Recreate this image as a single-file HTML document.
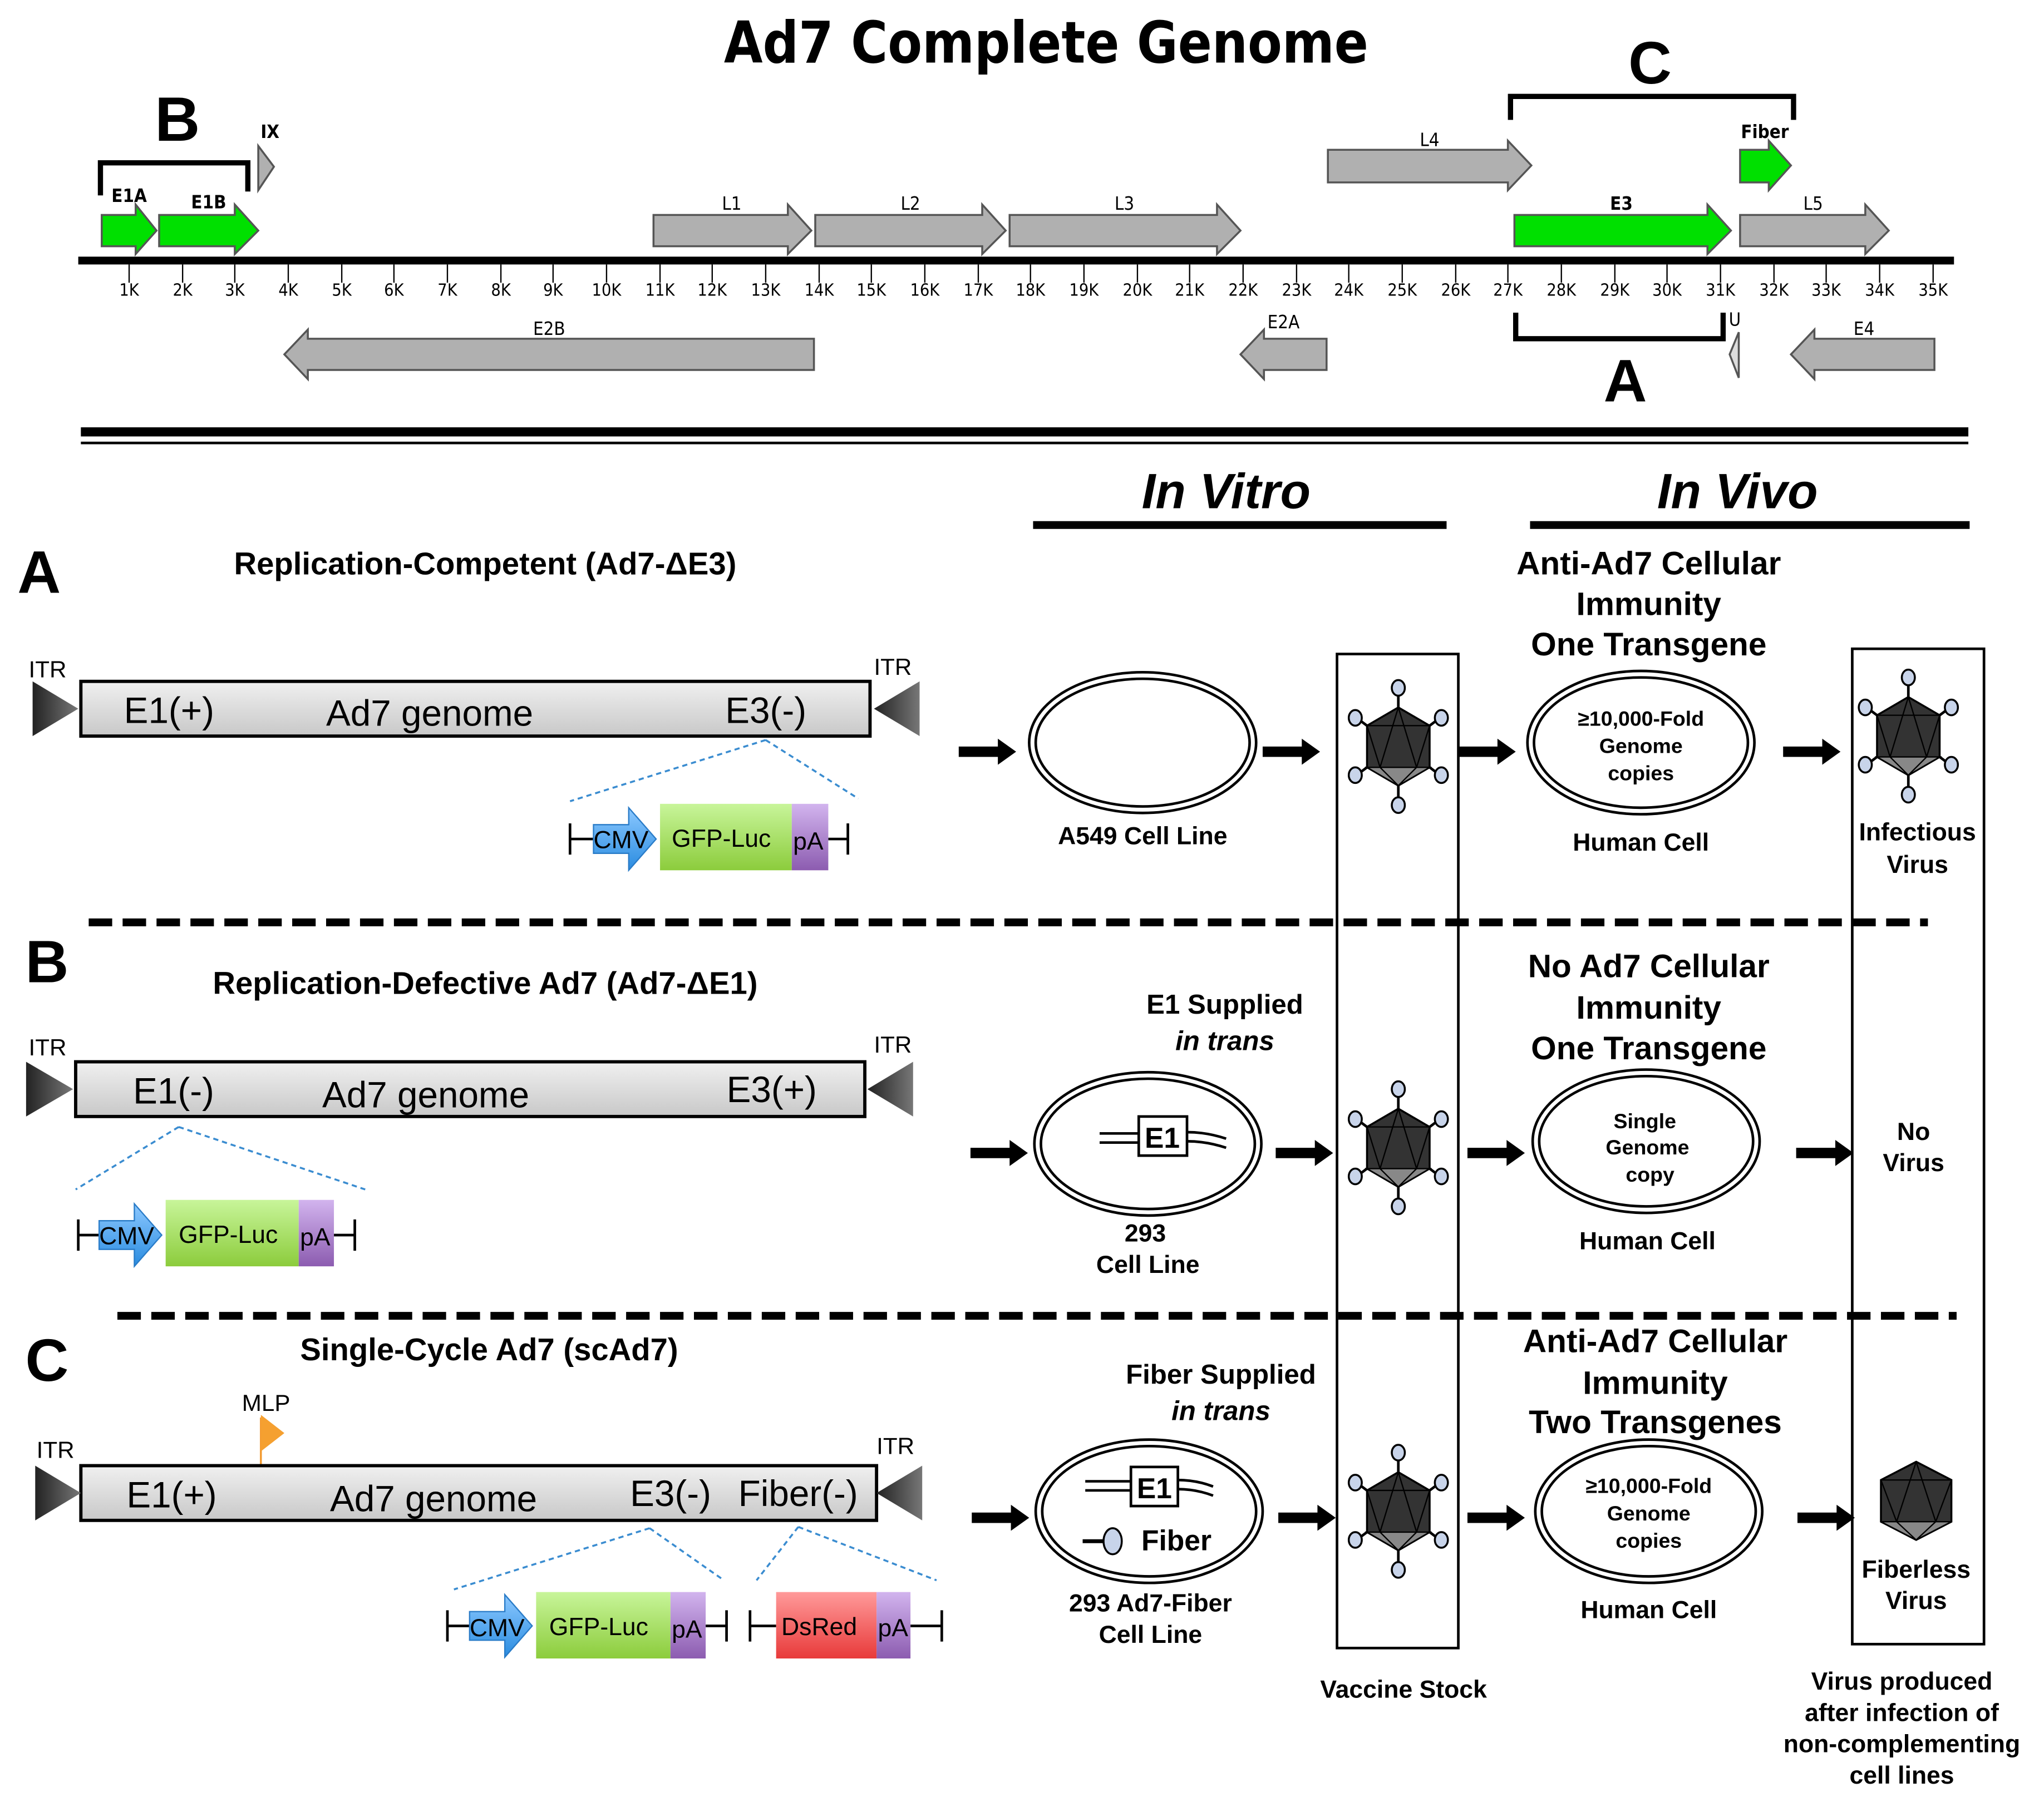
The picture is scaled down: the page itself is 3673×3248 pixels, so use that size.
<!DOCTYPE html>
<html><head><meta charset="utf-8"><style>html,body{margin:0;padding:0;background:#fff}svg{display:block}</style></head>
<body>
<svg xmlns="http://www.w3.org/2000/svg" xmlns:xlink="http://www.w3.org/1999/xlink" width="3673" height="3248" viewBox="0 0 1567 1387" preserveAspectRatio="none" font-family="Liberation Sans, Arial, sans-serif">
<defs>
<linearGradient id="bar" x1="0" y1="0" x2="0" y2="1"><stop offset="0" stop-color="#f0f0f0"/><stop offset="1" stop-color="#c8c8c8"/></linearGradient>
<linearGradient id="tri" x1="0" y1="0" x2="1" y2="0"><stop offset="0" stop-color="#222"/><stop offset="1" stop-color="#777"/></linearGradient>
<linearGradient id="gfp" x1="0" y1="0" x2="0" y2="1"><stop offset="0" stop-color="#c8f59a"/><stop offset="1" stop-color="#8ccc3c"/></linearGradient>
<linearGradient id="red" x1="0" y1="0" x2="0" y2="1"><stop offset="0" stop-color="#ff9a9a"/><stop offset="1" stop-color="#e83a3a"/></linearGradient>
<linearGradient id="pa" x1="0" y1="0" x2="0" y2="1"><stop offset="0" stop-color="#d2b4ee"/><stop offset="1" stop-color="#8c5cb0"/></linearGradient>
<linearGradient id="cmv" x1="0" y1="0" x2="0" y2="1"><stop offset="0" stop-color="#8cc8ff"/><stop offset="1" stop-color="#2a8ce0"/></linearGradient>
<g id="virus">
<g stroke="#000" stroke-width="2">
<line x1="0" y1="-30" x2="0" y2="-42"/><line x1="0" y1="30" x2="0" y2="42"/>
<line x1="24" y1="-16" x2="32" y2="-22"/><line x1="24" y1="16" x2="32" y2="22"/>
<line x1="-24" y1="-16" x2="-32" y2="-22"/><line x1="-24" y1="16" x2="-32" y2="22"/>
</g>
<polygon points="0,-30 24,-16 24,16 0,30 -24,16 -24,-16" fill="#333" stroke="#000" stroke-width="1.5"/>
<polygon points="-24,16 24,16 0,30" fill="#888" stroke="#000"/>
<path d="M0,-30 L-14,16 M0,-30 L14,16 M-24,-16 L24,-16 M-14,16 L0,30 L14,16 M-24,-16 L-14,16 M24,-16 L14,16" stroke="#000" fill="none" stroke-width="1"/>
<g fill="#c8d4ea" stroke="#000" stroke-width="1.5">
<ellipse cx="0" cy="-45" rx="5" ry="6"/><ellipse cx="0" cy="45" rx="5" ry="6"/>
<ellipse cx="33" cy="-22" rx="5" ry="6"/><ellipse cx="33" cy="22" rx="5" ry="6"/>
<ellipse cx="-33" cy="-22" rx="5" ry="6"/><ellipse cx="-33" cy="22" rx="5" ry="6"/>
</g>
</g>
<path id="arr" d="M0,-4 L30,-4 L30,-10 L44,0 L30,10 L30,4 L0,4 Z" fill="#000"/>
</defs>

<text x="802" y="48" font-size="44" font-weight="bold" text-anchor="middle" textLength="494" lengthAdjust="spacingAndGlyphs" font-family="DejaVu Sans, Liberation Sans, sans-serif">Ad7 Complete Genome</text>

<g stroke="#555" stroke-width="1.5">
<polygon points="78,165 104,165 104,157 120,177 104,195 104,189 78,189" fill="#00e000"/>
<polygon points="122,165 180,165 180,157 198,177 180,195 180,189 122,189" fill="#00e000"/>
<polygon points="501,165 604,165 604,157 622,177 604,195 604,189 501,189" fill="#b0b0b0"/>
<polygon points="625,165 753,165 753,157 771,177 753,195 753,189 625,189" fill="#b0b0b0"/>
<polygon points="774,165 933,165 933,157 951,177 933,195 933,189 774,189" fill="#b0b0b0"/>
<polygon points="1161,165 1309,165 1309,157 1327,177 1309,195 1309,189 1161,189" fill="#00e000"/>
<polygon points="1334,165 1430,165 1430,157 1448,177 1430,195 1430,189 1334,189" fill="#b0b0b0"/>
<polygon points="1018,115 1156,115 1156,108 1174,127 1156,146 1156,140 1018,140" fill="#b0b0b0"/>
<polygon points="198,112 210,128 198,146" fill="#b0b0b0"/>
<polygon points="1334,115 1356,115 1356,108 1373,127 1356,146 1356,140 1334,140" fill="#00e000"/>
<polygon points="624,260 236,260 236,253 218,272 236,291 236,284 624,284" fill="#b0b0b0"/>
<polygon points="1017,260 969,260 969,253 951,272 969,291 969,284 1017,284" fill="#b0b0b0"/>
<polygon points="1483,260 1391,260 1391,253 1373,272 1391,291 1391,284 1483,284" fill="#b0b0b0"/>
<polygon points="1333,255 1326,272 1333,290" fill="#ddd"/>
</g>
<g font-size="14" text-anchor="middle" font-family="DejaVu Sans Condensed, Liberation Sans, sans-serif">
<text x="99" y="155" font-weight="bold">E1A</text><text x="160" y="160" font-weight="bold">E1B</text>
<text x="207" y="106" font-weight="bold">IX</text>
<text x="561" y="161">L1</text><text x="698" y="161">L2</text><text x="862" y="161">L3</text>
<text x="1243" y="161" font-weight="bold">E3</text><text x="1390" y="161">L5</text>
<text x="1096" y="112">L4</text><text x="1353" y="106" font-weight="bold">Fiber</text>
<text x="421" y="257">E2B</text><text x="984" y="252">E2A</text><text x="1429" y="257">E4</text><text x="1330" y="250">U</text>
</g>
<rect x="60" y="197" width="1438" height="6" fill="#000"/>
<g stroke="#000" stroke-width="1">
<path d="M99,203v14M140,203v14M180,203v14M221,203v14M262,203v14M302,203v14M343,203v14M384,203v14M424,203v14M465,203v14M506,203v14M546,203v14M587,203v14M628,203v14M668,203v14M709,203v14M750,203v14M790,203v14M831,203v14M872,203v14M912,203v14M953,203v14M994,203v14M1034,203v14M1075,203v14M1116,203v14M1156,203v14M1197,203v14M1238,203v14M1278,203v14M1319,203v14M1360,203v14M1400,203v14M1441,203v14M1482,203v14"/>
</g>
<g font-size="13" text-anchor="middle" font-family="DejaVu Sans Condensed, Liberation Sans, sans-serif">
<text x="99" y="227">1K</text><text x="140" y="227">2K</text><text x="180" y="227">3K</text><text x="221" y="227">4K</text><text x="262" y="227">5K</text><text x="302" y="227">6K</text><text x="343" y="227">7K</text><text x="384" y="227">8K</text><text x="424" y="227">9K</text><text x="465" y="227">10K</text><text x="506" y="227">11K</text><text x="546" y="227">12K</text><text x="587" y="227">13K</text><text x="628" y="227">14K</text><text x="668" y="227">15K</text><text x="709" y="227">16K</text><text x="750" y="227">17K</text><text x="790" y="227">18K</text><text x="831" y="227">19K</text><text x="872" y="227">20K</text><text x="912" y="227">21K</text><text x="953" y="227">22K</text><text x="994" y="227">23K</text><text x="1034" y="227">24K</text><text x="1075" y="227">25K</text><text x="1116" y="227">26K</text><text x="1156" y="227">27K</text><text x="1197" y="227">28K</text><text x="1238" y="227">29K</text><text x="1278" y="227">30K</text><text x="1319" y="227">31K</text><text x="1360" y="227">32K</text><text x="1400" y="227">33K</text><text x="1441" y="227">34K</text><text x="1482" y="227">35K</text>
</g>
<g fill="none" stroke="#000">
<path d="M77,150 V125 H190 V147" stroke-width="4"/>
<path d="M1158,92 V74 H1375 V92" stroke-width="4"/>
<path d="M1162,240 V260 H1321 V240" stroke-width="4"/>
</g>
<g font-weight="bold" text-anchor="middle">
<text x="136" y="108" font-size="48">B</text>
<text x="1265" y="64" font-size="46">C</text>
<text x="1246" y="308" font-size="46">A</text>
</g>
<rect x="62" y="328" width="1447" height="7" fill="#000"/>
<rect x="62" y="339" width="1447" height="2" fill="#000"/>

<g font-weight="bold" font-style="italic" font-size="38" text-anchor="middle">
<text x="940" y="390">In Vitro</text><text x="1332" y="390">In Vivo</text>
</g>
<rect x="792" y="400" width="317" height="6" fill="#000"/>
<rect x="1173" y="400" width="337" height="6" fill="#000"/>

<rect x="1025" y="502" width="93" height="763" fill="none" stroke="#000" stroke-width="2"/>
<rect x="1420" y="498" width="101" height="764" fill="none" stroke="#000" stroke-width="2"/>

<line x1="68" y1="708" x2="1478" y2="708" stroke="#000" stroke-width="6" stroke-dasharray="18,8"/>
<line x1="90" y1="1010" x2="1500" y2="1010" stroke="#000" stroke-width="6" stroke-dasharray="18,8"/>

<text x="30" y="455" font-size="46" font-weight="bold" text-anchor="middle">A</text>
<text x="372" y="441" font-size="24" font-weight="bold" text-anchor="middle">Replication-Competent (Ad7-ΔE3)</text>
<rect x="62" y="523" width="605" height="42" fill="url(#bar)" stroke="#000" stroke-width="2.5"/>
<polygon points="25,523 25,565 60,544" fill="url(#tri)"/>
<polygon points="705,523 705,565 670,544" fill="url(#tri)"/>
<g font-size="18"><text x="22" y="520">ITR</text><text x="670" y="518">ITR</text></g>
<g font-size="28"><text x="95" y="555">E1(+)</text><text x="250" y="557">Ad7 genome</text><text x="556" y="555">E3(-)</text></g>
<path d="M587,568 L437,615 M587,568 L658,613" stroke="#3a8cd0" stroke-width="1.5" stroke-dasharray="4,3" fill="none"/>
<path d="M437,632 V656 M437,644 H455 M635,644 H650 M650,632 V656" stroke="#000" stroke-width="2" fill="none"/>
<polygon points="455,633 482,633 482,620 503,644 482,668 482,655 455,655" fill="url(#cmv)" stroke="#2a7cc8"/>
<rect x="506" y="617" width="101" height="51" fill="url(#gfp)"/>
<rect x="607" y="617" width="28" height="51" fill="url(#pa)"/>
<g font-size="19"><text x="455" y="651">CMV</text><text x="515" y="650">GFP-Luc</text><text x="608" y="652">pA</text></g>

<use xlink:href="#arr" x="735" y="577"/>
<ellipse cx="876" cy="570" rx="87" ry="54" fill="none" stroke="#000" stroke-width="2"/>
<ellipse cx="876" cy="570" rx="82" ry="49" fill="none" stroke="#000" stroke-width="2"/>
<text x="876" y="648" font-size="19" font-weight="bold" text-anchor="middle">A549 Cell Line</text>
<use xlink:href="#arr" x="968" y="577"/>
<use xlink:href="#virus" x="1072" y="573"/>
<use xlink:href="#arr" x="1118" y="577"/>
<g font-size="25" font-weight="bold" text-anchor="middle"><text x="1264" y="441">Anti-Ad7 Cellular</text><text x="1264" y="472">Immunity</text><text x="1264" y="503">One Transgene</text></g>
<ellipse cx="1258" cy="570" rx="87" ry="55" fill="none" stroke="#000" stroke-width="2"/>
<ellipse cx="1258" cy="570" rx="82" ry="50" fill="none" stroke="#000" stroke-width="2"/>
<g font-size="16" font-weight="bold" text-anchor="middle"><text x="1258" y="557">≥10,000-Fold</text><text x="1258" y="578">Genome</text><text x="1258" y="599">copies</text></g>
<text x="1258" y="653" font-size="19" font-weight="bold" text-anchor="middle">Human Cell</text>
<use xlink:href="#arr" x="1367" y="577"/>
<use xlink:href="#virus" x="1463" y="565"/>
<g font-size="19" font-weight="bold" text-anchor="middle"><text x="1470" y="645">Infectious</text><text x="1470" y="670">Virus</text></g>

<text x="36" y="754" font-size="46" font-weight="bold" text-anchor="middle">B</text>
<text x="372" y="763" font-size="24" font-weight="bold" text-anchor="middle">Replication-Defective Ad7 (Ad7-ΔE1)</text>
<rect x="58" y="815" width="605" height="42" fill="url(#bar)" stroke="#000" stroke-width="2.5"/>
<polygon points="20,815 20,857 56,836" fill="url(#tri)"/>
<polygon points="700,815 700,857 665,836" fill="url(#tri)"/>
<g font-size="18"><text x="22" y="810">ITR</text><text x="670" y="808">ITR</text></g>
<g font-size="28"><text x="102" y="847">E1(-)</text><text x="247" y="850">Ad7 genome</text><text x="557" y="846">E3(+)</text></g>
<path d="M137,865 L58,913 M137,865 L280,913" stroke="#3a8cd0" stroke-width="1.5" stroke-dasharray="4,3" fill="none"/>
<path d="M60,936 V960 M60,948 H76 M256,948 H272 M272,936 V960" stroke="#000" stroke-width="2" fill="none"/>
<polygon points="76,937 103,937 103,924 124,948 103,972 103,959 76,959" fill="url(#cmv)" stroke="#2a7cc8"/>
<rect x="127" y="921" width="102" height="51" fill="url(#gfp)"/>
<rect x="229" y="921" width="27" height="51" fill="url(#pa)"/>
<g font-size="19"><text x="76" y="955">CMV</text><text x="137" y="954">GFP-Luc</text><text x="230" y="956">pA</text></g>
<g font-size="21" font-weight="bold" text-anchor="middle"><text x="939" y="778">E1 Supplied</text><text x="939" y="806" font-style="italic">in trans</text></g>
<use xlink:href="#arr" x="744" y="885"/>
<ellipse cx="880" cy="878" rx="87" ry="55" fill="none" stroke="#000" stroke-width="2"/>
<ellipse cx="880" cy="878" rx="82" ry="50" fill="none" stroke="#000" stroke-width="2"/>
<path d="M843,870 H873 M843,877 H873 M910,869 Q925,869 940,874 M910,876 Q925,876 940,881" stroke="#000" stroke-width="2" fill="none"/>
<rect x="873" y="857" width="37" height="30" fill="#fff" stroke="#000" stroke-width="2"/>
<text x="891" y="881" font-size="22" font-weight="bold" text-anchor="middle">E1</text>
<g font-size="19" font-weight="bold" text-anchor="middle"><text x="878" y="953">293</text><text x="880" y="977">Cell Line</text></g>
<use xlink:href="#arr" x="978" y="885"/>
<use xlink:href="#virus" x="1072" y="881"/>
<use xlink:href="#arr" x="1125" y="885"/>
<g font-size="25" font-weight="bold" text-anchor="middle"><text x="1264" y="750">No Ad7 Cellular</text><text x="1264" y="782">Immunity</text><text x="1264" y="813">One Transgene</text></g>
<ellipse cx="1262" cy="876" rx="87" ry="55" fill="none" stroke="#000" stroke-width="2"/>
<ellipse cx="1262" cy="876" rx="82" ry="50" fill="none" stroke="#000" stroke-width="2"/>
<g font-size="16" font-weight="bold" text-anchor="middle"><text x="1261" y="866">Single</text><text x="1263" y="886">Genome</text><text x="1265" y="907">copy</text></g>
<text x="1263" y="959" font-size="19" font-weight="bold" text-anchor="middle">Human Cell</text>
<use xlink:href="#arr" x="1377" y="885"/>
<g font-size="19" font-weight="bold" text-anchor="middle"><text x="1467" y="875">No</text><text x="1467" y="899">Virus</text></g>

<text x="36" y="1060" font-size="46" font-weight="bold" text-anchor="middle">C</text>
<text x="375" y="1044" font-size="24" font-weight="bold" text-anchor="middle">Single-Cycle Ad7 (scAd7)</text>
<text x="204" y="1083" font-size="18" text-anchor="middle">MLP</text>
<line x1="200" y1="1088" x2="200" y2="1126" stroke="#f39a30" stroke-width="1.5"/>
<polygon points="200,1086 218,1100 200,1114" fill="#f5a030"/>
<rect x="62" y="1125" width="610" height="42" fill="url(#bar)" stroke="#000" stroke-width="2.5"/>
<polygon points="27,1125 27,1167 62,1146" fill="url(#tri)"/>
<polygon points="707,1125 707,1167 672,1146" fill="url(#tri)"/>
<g font-size="18"><text x="28" y="1119">ITR</text><text x="672" y="1116">ITR</text></g>
<g font-size="28"><text x="97" y="1157">E1(+)</text><text x="253" y="1160">Ad7 genome</text><text x="483" y="1156">E3(-)</text><text x="566" y="1156">Fiber(-)</text></g>
<path d="M498,1173 L348,1220 M498,1173 L555,1213 M612,1172 L580,1213 M612,1172 L718,1213" stroke="#3a8cd0" stroke-width="1.5" stroke-dasharray="4,3" fill="none"/>
<path d="M343,1236 V1260 M343,1248 H360 M541,1248 H557 M557,1236 V1260 M575,1236 V1260 M575,1248 H595 M698,1248 H722 M722,1236 V1260" stroke="#000" stroke-width="2" fill="none"/>
<polygon points="360,1237 387,1237 387,1224 408,1248 387,1272 387,1259 360,1259" fill="url(#cmv)" stroke="#2a7cc8"/>
<rect x="411" y="1222" width="103" height="51" fill="url(#gfp)"/>
<rect x="514" y="1222" width="27" height="51" fill="url(#pa)"/>
<rect x="595" y="1222" width="77" height="51" fill="url(#red)"/>
<rect x="672" y="1222" width="26" height="51" fill="url(#pa)"/>
<g font-size="19"><text x="360" y="1256">CMV</text><text x="421" y="1255">GFP-Luc</text><text x="515" y="1257">pA</text><text x="599" y="1255">DsRed</text><text x="673" y="1256">pA</text></g>
<g font-size="21" font-weight="bold" text-anchor="middle"><text x="936" y="1062">Fiber Supplied</text><text x="936" y="1090" font-style="italic">in trans</text></g>
<use xlink:href="#arr" x="745" y="1165"/>
<ellipse cx="881" cy="1160" rx="87" ry="55" fill="none" stroke="#000" stroke-width="2"/>
<ellipse cx="881" cy="1160" rx="82" ry="50" fill="none" stroke="#000" stroke-width="2"/>
<path d="M832,1137 H867 M832,1144 H867 M903,1136 Q917,1136 930,1141 M903,1143 Q917,1143 930,1148" stroke="#000" stroke-width="2" fill="none"/>
<rect x="867" y="1126" width="36" height="30" fill="#fff" stroke="#000" stroke-width="2"/>
<text x="885" y="1150" font-size="22" font-weight="bold" text-anchor="middle">E1</text>
<line x1="830" y1="1183" x2="846" y2="1183" stroke="#000" stroke-width="3"/>
<ellipse cx="853" cy="1183" rx="7" ry="10" fill="#c8d4ea" stroke="#000" stroke-width="1.5"/>
<text x="875" y="1190" font-size="22" font-weight="bold">Fiber</text>
<g font-size="19" font-weight="bold" text-anchor="middle"><text x="882" y="1237">293 Ad7-Fiber</text><text x="882" y="1261">Cell Line</text></g>
<use xlink:href="#arr" x="980" y="1165"/>
<use xlink:href="#virus" x="1072" y="1160"/>
<use xlink:href="#arr" x="1125" y="1165"/>
<g font-size="25" font-weight="bold" text-anchor="middle"><text x="1269" y="1038">Anti-Ad7 Cellular</text><text x="1269" y="1070">Immunity</text><text x="1269" y="1100">Two Transgenes</text></g>
<ellipse cx="1264" cy="1160" rx="87" ry="55" fill="none" stroke="#000" stroke-width="2"/>
<ellipse cx="1264" cy="1160" rx="82" ry="50" fill="none" stroke="#000" stroke-width="2"/>
<g font-size="16" font-weight="bold" text-anchor="middle"><text x="1264" y="1146">≥10,000-Fold</text><text x="1264" y="1167">Genome</text><text x="1264" y="1188">copies</text></g>
<text x="1264" y="1242" font-size="19" font-weight="bold" text-anchor="middle">Human Cell</text>
<use xlink:href="#arr" x="1378" y="1165"/>
<g transform="translate(1469,1152)">
<polygon points="0,-30 27,-16 27,16 0,30 -27,16 -27,-16" fill="#333" stroke="#000" stroke-width="1.5"/>
<polygon points="-27,16 27,16 0,30" fill="#888" stroke="#000"/>
<path d="M0,-30 L-15,16 M0,-30 L15,16 M-27,-16 L27,-16 M-15,16 L0,30 L15,16 M-27,-16 L-15,16 M27,-16 L15,16" stroke="#000" fill="none"/>
</g>
<g font-size="19" font-weight="bold" text-anchor="middle"><text x="1469" y="1211">Fiberless</text><text x="1469" y="1235">Virus</text></g>

<text x="1076" y="1303" font-size="19" font-weight="bold" text-anchor="middle">Vaccine Stock</text>
<g font-size="19" font-weight="bold" text-anchor="middle"><text x="1458" y="1297">Virus produced</text><text x="1458" y="1321">after infection of</text><text x="1458" y="1345">non-complementing</text><text x="1458" y="1369">cell lines</text></g>
</svg>
</body></html>
